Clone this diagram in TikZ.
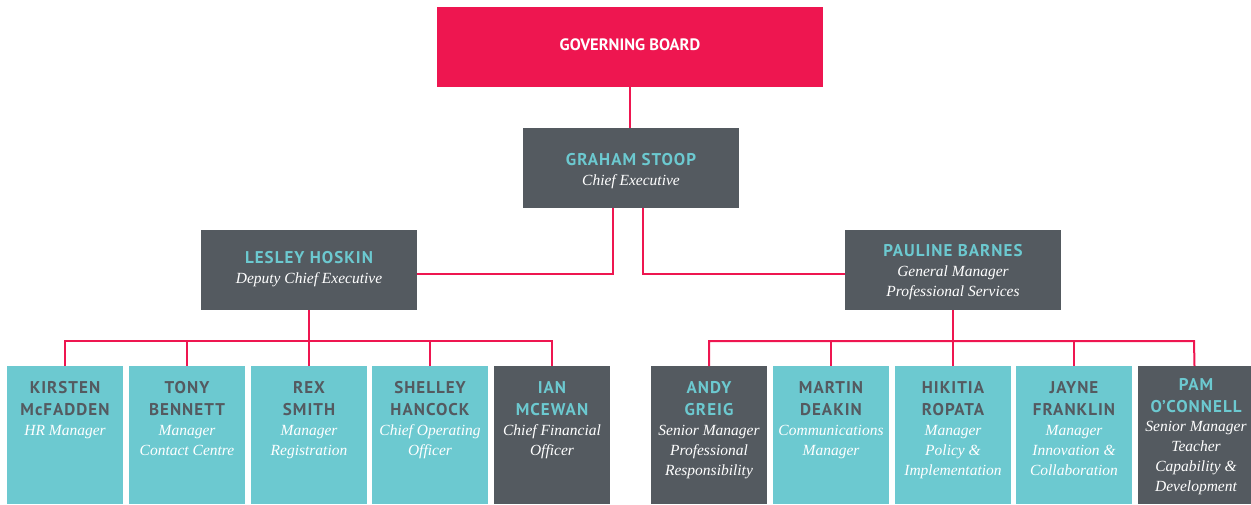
\documentclass[tikz,border=0pt]{standalone}
\usepackage{fontspec}
\newfontfamily\namefont{PT Sans}[LetterSpace=6]
\newfontfamily\boardfont{PT Sans}
\newfontfamily\titlefont{Liberation Serif}
\definecolor{cred}{HTML}{EE1650}
\definecolor{cgray}{HTML}{545A60}
\definecolor{cteal}{HTML}{6CC9D0}
\newcommand{\stk}[1]{\setlength{\tabcolsep}{0pt}\renewcommand{\arraystretch}{1}\begin{tabular}[t]{c}#1\end{tabular}}
\tikzset{
  box/.style={rectangle, inner sep=0pt, outer sep=0pt, fill=#1},
  midbox/.style={box=cgray, minimum width=216pt, minimum height=80pt},
  lowbox/.style={box=#1, minimum width=116pt, minimum height=138pt},
  nm/.style={anchor=base, inner sep=0pt, text=#1,
    font=\namefont\bfseries\fontsize{17}{22}\selectfont},
  tt/.style={anchor=base, inner sep=0pt, text=white,
    font=\titlefont\itshape\fontsize{15.5}{20}\selectfont},
  link/.style={draw=cred, line width=2pt}
}
\begin{document}
\begin{tikzpicture}[x=1pt,y=-1pt]
\useasboundingbox (0,0) rectangle (1251,504);
% boxes
\node[box=cred, minimum width=386pt, minimum height=80pt] (gb) at (630,47) {};
\node[midbox] (gs) at (631,168) {};
\node[midbox] (lh) at (309,270) {};
\node[midbox] (pb) at (953,270) {};
\node[lowbox=cteal] (b1) at (65,435) {};
\node[lowbox=cteal] (b2) at (187,435) {};
\node[lowbox=cteal] (b3) at (309,435) {};
\node[lowbox=cteal] (b4) at (430,435) {};
\node[lowbox=cgray] (b5) at (552,435) {};
\node[lowbox=cgray] (b6) at (709,435) {};
\node[lowbox=cteal] (b7) at (831,435) {};
\node[lowbox=cteal] (b8) at (953,435) {};
\node[lowbox=cteal] (b9) at (1074,435) {};
\node[lowbox=cgray, minimum width=113pt] (b10) at (1194.5,435) {};
% connectors
\coordinate (barL) at (65,341);
\coordinate (barR) at (1194,341);
\draw[link] (gb.south) -- (gb.south |- gs.north);
\draw[link] ([xshift=-18pt]gs.south) |- ([yshift=-4pt]lh.east);
\draw[link] ([xshift=12pt]gs.south) |- ([yshift=-4pt]pb.west);
\draw[link] (lh.south) -- (lh.south |- barL);
\draw[link] (pb.south) -- (pb.south |- barL);
\draw[link] (b1.north) |- (b5.north |- barL) -- (b5.north);
\foreach \b in {b2,b3,b4} \draw[link] (\b.north) -- (\b.north |- barL);
\draw[link] (b6.north) |- (barR) -- (b10.north);
\foreach \b in {b7,b8,b9} \draw[link] (\b.north) -- (\b.north |- barL);
% texts
\node[anchor=base, inner sep=0pt, text=white, font=\boardfont\bfseries\fontsize{16.5}{18}\selectfont] (gbt) at (630,50) {GOVERNING BOARD};
\node[nm=cteal] (gsn) at (631,165) {GRAHAM STOOP};
\node[tt] (gst) at (631,185) {Chief Executive};
\node[nm=cteal] (lhn) at (309,263) {LESLEY HOSKIN};
\node[tt] (lht) at (309,283) {Deputy Chief Executive};
\node[nm=cteal] (pbn) at (953,256) {PAULINE BARNES};
\node[tt] (pbt) at (953,276) {\stk{General Manager\\Professional Services}};
\node[nm=cgray] (n1) at (65,393) {\stk{KIRSTEN\\McFADDEN}};
\node[tt] (t1) at (65,435) {HR Manager};
\node[nm=cgray] (n2) at (187,393) {\stk{TONY\\BENNETT}};
\node[tt] (t2) at (187,435) {\stk{Manager\\Contact Centre}};
\node[nm=cgray] (n3) at (309,393) {\stk{REX\\SMITH}};
\node[tt] (t3) at (309,435) {\stk{Manager\\Registration}};
\node[nm=cgray] (n4) at (430,393) {\stk{SHELLEY\\HANCOCK}};
\node[tt] (t4) at (430,435) {\stk{Chief Operating\\Officer}};
\node[nm=cteal] (n5) at (552,393) {\stk{IAN\\MCEWAN}};
\node[tt] (t5) at (552,435) {\stk{Chief Financial\\Officer}};
\node[nm=cteal] (n6) at (709,393) {\stk{ANDY\\GREIG}};
\node[tt] (t6) at (709,435) {\stk{Senior Manager\\Professional\\Responsibility}};
\node[nm=cgray] (n7) at (831,393) {\stk{MARTIN\\DEAKIN}};
\node[tt] (t7) at (831,435) {\stk{Communications\\Manager}};
\node[nm=cgray] (n8) at (953,393) {\stk{HIKITIA\\ROPATA}};
\node[tt] (t8) at (953,435) {\stk{Manager\\Policy \&\\Implementation}};
\node[nm=cgray] (n9) at (1074,393) {\stk{JAYNE\\FRANKLIN}};
\node[tt] (t9) at (1074,435) {\stk{Manager\\Innovation \&\\Collaboration}};
\node[nm=cteal] (n10) at (1196,390) {\stk{PAM\\O’CONNELL}};
\node[tt] (t10) at (1196,431) {\stk{Senior Manager\\Teacher\\Capability \&\\Development}};
\end{tikzpicture}
\end{document}
